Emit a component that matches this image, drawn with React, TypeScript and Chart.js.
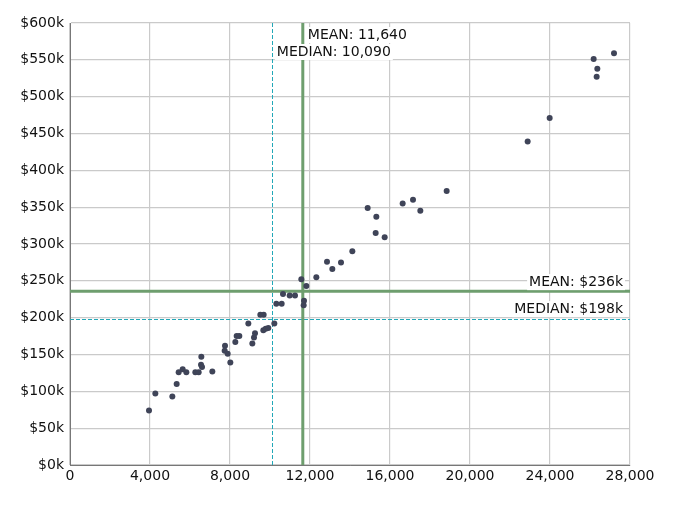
import React, { useEffect, useRef } from "react";
import { Chart, registerables } from "chart.js";

Chart.register(...registerables);

// x values (units) and y values (dollars)
const xValues = [
  3950, 4267, 5117, 5333, 5433, 5633, 5817, 6267, 6433, 6567, 6550, 6600, 7117,
  7750, 7733, 7883, 8017, 8267, 8333, 8467, 8917, 9117, 9200, 9250, 9517, 9683,
  9667, 9783, 9917, 10217, 10317, 10583, 10650, 10983, 11250, 11567, 11817,
  11700, 11683, 12317, 12850, 13117, 13550, 14117, 14883, 15317, 15283, 15733,
  16633, 17150, 17517, 18833, 22883, 23983, 26183, 27200, 26367, 26333,
];
const yValues = [
  74000, 97000, 93000, 110000, 126000, 130000, 126000, 126000, 126000, 147000,
  136000, 133000, 127000, 162000, 155000, 151000, 139000, 167000, 175000,
  175000, 192000, 165000, 173000, 179000, 204000, 204000, 183000, 185000,
  186000, 192000, 219000, 219000, 232000, 230000, 230000, 252000, 243000,
  223000, 217000, 255000, 276000, 266000, 275000, 290000, 349000, 337000,
  315000, 309000, 355000, 360000, 345000, 372000, 439000, 471000, 551000,
  559000, 538000, 527000,
];

const meanX = 11640;
const medianX = 10090;
const meanY = 236000;
const medianY = 198000;

const xTickMax = 28000;
const xTickStep = 4000;
const yTickMax = 600000;
const yTickStep = 50000;

const FONT = "'DejaVu Sans', Verdana, sans-serif";

const refLines = {
  id: "refLines",
  beforeDatasetsDraw(chart: any) {
    const { ctx, chartArea, scales } = chart;
    const xs = scales.x, ys = scales.y;
    ctx.save();
    // median lines (dashed teal)
    ctx.strokeStyle = "#22a8b8";
    ctx.lineWidth = 1;
    ctx.setLineDash([4, 2]);
    const mx = Math.round(xs.getPixelForValue(medianX)) + 0.5;
    ctx.beginPath();
    ctx.moveTo(mx, chartArea.top);
    ctx.lineTo(mx, chartArea.bottom);
    ctx.stroke();
    const my = Math.round(ys.getPixelForValue(medianY)) + 0.5;
    ctx.beginPath();
    ctx.moveTo(chartArea.left, my);
    ctx.lineTo(chartArea.right, my);
    ctx.stroke();
    // mean lines (solid green)
    ctx.setLineDash([]);
    ctx.strokeStyle = "#6e9e6e";
    ctx.lineWidth = 3;
    const ax = xs.getPixelForValue(meanX);
    ctx.beginPath();
    ctx.moveTo(ax, chartArea.top);
    ctx.lineTo(ax, chartArea.bottom);
    ctx.stroke();
    const ay = ys.getPixelForValue(meanY);
    ctx.beginPath();
    ctx.moveTo(chartArea.left, ay);
    ctx.lineTo(chartArea.right, ay);
    ctx.stroke();
    ctx.restore();
  },
  afterDatasetsDraw(chart: any) {
    const { ctx, chartArea, scales } = chart;
    const xs = scales.x, ys = scales.y;
    ctx.save();
    ctx.font = "14px " + FONT;
    ctx.textBaseline = "middle";
    const label = (text: string, x: number, y: number, align: "left" | "right") => {
      const w = ctx.measureText(text).width;
      const left = align === "left" ? x : x - w;
      ctx.fillStyle = "#ffffff";
      ctx.fillRect(left - 2, y - 8, w + 4, 16);
      ctx.fillStyle = "#111111";
      ctx.textAlign = "left";
      ctx.fillText(text, left, y);
    };
    const fmt = (v: number) => v.toLocaleString("en-US");
    label("MEAN: " + fmt(meanX), xs.getPixelForValue(meanX) + 5, chartArea.top + 12, "left");
    label("MEDIAN: " + fmt(medianX), xs.getPixelForValue(medianX) + 5, chartArea.top + 29, "left");
    label("MEAN: $" + Math.round(meanY / 1000) + "k", chartArea.right - 7, ys.getPixelForValue(meanY) - 9, "right");
    label("MEDIAN: $" + Math.round(medianY / 1000) + "k", chartArea.right - 7, ys.getPixelForValue(medianY) - 10, "right");
    ctx.restore();
  },
};

export default function App() {
  const ref = useRef<HTMLCanvasElement>(null);
  useEffect(() => {
    const points = xValues.map((x, i) => ({ x, y: yValues[i] }));
    const chart = new Chart(ref.current!, {
      type: "scatter",
      data: {
        datasets: [
          {
            data: points,
            backgroundColor: "#3f4458",
            borderWidth: 0,
            pointRadius: 3,
          },
        ],
      },
      options: {
        animation: false,
        responsive: false,
        layout: { padding: { top: 15, right: 36, left: 0, bottom: 0 } },
        plugins: { legend: { display: false }, tooltip: { enabled: false } },
        scales: {
          x: {
            type: "linear",
            min: 0,
            max: xTickMax,
            afterFit: (s: any) => { s.height = 33; },
            ticks: {
              stepSize: xTickStep,
              color: "#111",
              font: { family: FONT, size: 14 },
              padding: 3,
              callback: (v: any) => Number(v).toLocaleString("en-US"),
              maxRotation: 0,
            },
            grid: { color: "#cacaca", lineWidth: 1.2, drawTicks: false },
            border: { color: "#777", width: 1 },
          },
          y: {
            type: "linear",
            min: 0,
            max: yTickMax,
            afterFit: (s: any) => { s.width = 62; },
            ticks: {
              stepSize: yTickStep,
              color: "#111",
              font: { family: FONT, size: 14 },
              padding: 6,
              callback: (v: any) => "$" + Number(v) / 1000 + "k",
            },
            grid: { color: "#cacaca", lineWidth: 1.2, drawTicks: false },
            border: { color: "#777", width: 1 },
          },
        },
      },
      plugins: [refLines],
    });
    return () => chart.destroy();
  }, []);
  return (
    <div style={{ width: 658, height: 490 }}>
      <canvas ref={ref} width={658} height={490} />
    </div>
  );
}
